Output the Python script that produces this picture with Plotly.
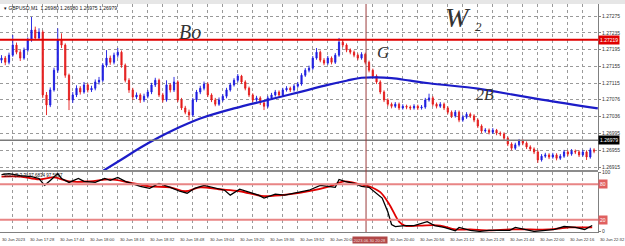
import plotly.graph_objects as go

# ---------------- DATA ----------------
# candle times: minutes after 17:00 on 30 Jun 2023 (2-minute candles)
candle_minutes = list(range(14, 332, 2))

open_ = [1.27170, 1.27175, 1.27165, 1.27182, 1.27206, 1.27189, 1.27175, 1.27194, 1.27218, 1.27242,
         1.27223, 1.27237, 1.27087, 1.27063, 1.27099, 1.27146, 1.27218, 1.27206, 1.27134, 1.27075,
         1.27087, 1.27103, 1.27094, 1.27111, 1.27099, 1.27103, 1.27118, 1.27122, 1.27158, 1.27175,
         1.27165, 1.27182, 1.27189, 1.27158, 1.27122, 1.27099, 1.27082, 1.27087, 1.27075, 1.27084,
         1.27094, 1.27111, 1.27122, 1.27087, 1.27075, 1.27111, 1.27099, 1.27118, 1.27075, 1.27056,
         1.27046, 1.27039, 1.27075, 1.27094, 1.27103, 1.27113, 1.27087, 1.27075, 1.27065, 1.27075,
         1.27084, 1.27099, 1.27111, 1.27122, 1.27132, 1.27118, 1.27103, 1.27087, 1.27075, 1.27080,
         1.27068, 1.27060, 1.27080, 1.27087, 1.27094, 1.27087, 1.27099, 1.27103, 1.27099, 1.27108,
         1.27113, 1.27134, 1.27146, 1.27151, 1.27175, 1.27189, 1.27170, 1.27163, 1.27175, 1.27165,
         1.27182, 1.27213, 1.27206, 1.27194, 1.27189, 1.27182, 1.27175, 1.27184, 1.27165, 1.27146,
         1.27132, 1.27118, 1.27094, 1.27075, 1.27065, 1.27060, 1.27065, 1.27056, 1.27060, 1.27058,
         1.27056, 1.27060, 1.27056, 1.27058, 1.27075, 1.27080, 1.27065, 1.27060, 1.27065, 1.27056,
         1.27046, 1.27037, 1.27046, 1.27027, 1.27034, 1.27041, 1.27037, 1.27027, 1.27013, 1.27001,
         1.27003, 1.26998, 1.27003, 1.26996, 1.26994, 1.26984, 1.26970, 1.26960, 1.26968, 1.26977,
         1.26972, 1.26963, 1.26958, 1.26951, 1.26932, 1.26941, 1.26944, 1.26939, 1.26944, 1.26936,
         1.26941, 1.26951, 1.26946, 1.26953, 1.26951, 1.26944, 1.26951, 1.26939, 1.26956]

close = [1.27175, 1.27165, 1.27182, 1.27206, 1.27189, 1.27175, 1.27194, 1.27218, 1.27242, 1.27223,
         1.27237, 1.27087, 1.27063, 1.27099, 1.27146, 1.27218, 1.27206, 1.27134, 1.27075, 1.27087,
         1.27103, 1.27094, 1.27111, 1.27099, 1.27103, 1.27118, 1.27122, 1.27158, 1.27175, 1.27165,
         1.27182, 1.27189, 1.27158, 1.27122, 1.27099, 1.27082, 1.27087, 1.27075, 1.27084, 1.27094,
         1.27111, 1.27122, 1.27087, 1.27075, 1.27111, 1.27099, 1.27118, 1.27075, 1.27056, 1.27046,
         1.27039, 1.27075, 1.27094, 1.27103, 1.27113, 1.27087, 1.27075, 1.27065, 1.27075, 1.27084,
         1.27099, 1.27111, 1.27122, 1.27132, 1.27118, 1.27103, 1.27087, 1.27075, 1.27080, 1.27068,
         1.27060, 1.27080, 1.27087, 1.27094, 1.27087, 1.27099, 1.27103, 1.27099, 1.27108, 1.27113,
         1.27134, 1.27146, 1.27151, 1.27175, 1.27189, 1.27170, 1.27163, 1.27175, 1.27165, 1.27182,
         1.27213, 1.27206, 1.27194, 1.27189, 1.27182, 1.27175, 1.27184, 1.27165, 1.27146, 1.27132,
         1.27118, 1.27094, 1.27075, 1.27065, 1.27060, 1.27065, 1.27056, 1.27060, 1.27058, 1.27056,
         1.27060, 1.27056, 1.27058, 1.27075, 1.27080, 1.27065, 1.27060, 1.27065, 1.27056, 1.27046,
         1.27037, 1.27046, 1.27027, 1.27034, 1.27041, 1.27037, 1.27027, 1.27013, 1.27001, 1.27003,
         1.26998, 1.27003, 1.26996, 1.26994, 1.26984, 1.26970, 1.26960, 1.26968, 1.26977, 1.26972,
         1.26963, 1.26958, 1.26951, 1.26932, 1.26941, 1.26944, 1.26939, 1.26944, 1.26936, 1.26941,
         1.26951, 1.26946, 1.26953, 1.26951, 1.26944, 1.26951, 1.26939, 1.26956, 1.26953]

high = [1.27182, 1.27180, 1.27188, 1.27230, 1.27212, 1.27194, 1.27200, 1.27224, 1.27273, 1.27250,
        1.27246, 1.27241, 1.27094, 1.27105, 1.27152, 1.27246, 1.27234, 1.27210, 1.27138, 1.27094,
        1.27110, 1.27108, 1.27118, 1.27115, 1.27109, 1.27124, 1.27130, 1.27163, 1.27194, 1.27181,
        1.27188, 1.27199, 1.27193, 1.27162, 1.27127, 1.27104, 1.27093, 1.27091, 1.27090, 1.27099,
        1.27116, 1.27128, 1.27126, 1.27092, 1.27122, 1.27115, 1.27130, 1.27122, 1.27080, 1.27061,
        1.27052, 1.27080, 1.27099, 1.27109, 1.27119, 1.27117, 1.27091, 1.27080, 1.27081, 1.27089,
        1.27104, 1.27116, 1.27127, 1.27137, 1.27135, 1.27122, 1.27107, 1.27091, 1.27085, 1.27084,
        1.27072, 1.27085, 1.27092, 1.27099, 1.27098, 1.27104, 1.27108, 1.27107, 1.27113, 1.27118,
        1.27139, 1.27151, 1.27157, 1.27180, 1.27199, 1.27193, 1.27175, 1.27180, 1.27179, 1.27187,
        1.27223, 1.27218, 1.27210, 1.27198, 1.27193, 1.27186, 1.27189, 1.27188, 1.27169, 1.27150,
        1.27136, 1.27122, 1.27098, 1.27079, 1.27069, 1.27070, 1.27069, 1.27065, 1.27064, 1.27062,
        1.27065, 1.27064, 1.27063, 1.27080, 1.27090, 1.27084, 1.27069, 1.27070, 1.27069, 1.27060,
        1.27050, 1.27051, 1.27050, 1.27039, 1.27046, 1.27045, 1.27041, 1.27031, 1.27017, 1.27008,
        1.27007, 1.27008, 1.27006, 1.27000, 1.26998, 1.26988, 1.26974, 1.26973, 1.26982, 1.26981,
        1.26976, 1.26967, 1.26962, 1.26955, 1.26946, 1.26949, 1.26948, 1.26949, 1.26948, 1.26946,
        1.26956, 1.26955, 1.26958, 1.26957, 1.26955, 1.26956, 1.26955, 1.26961, 1.26960]

low = [1.27163, 1.27158, 1.27160, 1.27178, 1.27184, 1.27168, 1.27171, 1.27190, 1.27214, 1.27218,
       1.27219, 1.27080, 1.27039, 1.27058, 1.27095, 1.27140, 1.27199, 1.27128, 1.27051, 1.27068,
       1.27082, 1.27088, 1.27090, 1.27093, 1.27094, 1.27098, 1.27112, 1.27118, 1.27153, 1.27159,
       1.27160, 1.27176, 1.27152, 1.27117, 1.27092, 1.27075, 1.27077, 1.27068, 1.27070, 1.27079,
       1.27089, 1.27106, 1.27082, 1.27069, 1.27071, 1.27093, 1.27094, 1.27070, 1.27051, 1.27041,
       1.27027, 1.27035, 1.27070, 1.27089, 1.27098, 1.27082, 1.27070, 1.27060, 1.27061, 1.27071,
       1.27079, 1.27095, 1.27107, 1.27117, 1.27113, 1.27098, 1.27082, 1.27070, 1.27071, 1.27063,
       1.27051, 1.27056, 1.27076, 1.27083, 1.27082, 1.27083, 1.27095, 1.27094, 1.27095, 1.27104,
       1.27109, 1.27130, 1.27141, 1.27147, 1.27171, 1.27165, 1.27158, 1.27159, 1.27160, 1.27161,
       1.27178, 1.27201, 1.27189, 1.27184, 1.27177, 1.27170, 1.27171, 1.27160, 1.27141, 1.27127,
       1.27113, 1.27089, 1.27070, 1.27060, 1.27055, 1.27056, 1.27051, 1.27052, 1.27053, 1.27051,
       1.27052, 1.27051, 1.27052, 1.27054, 1.27071, 1.27060, 1.27055, 1.27056, 1.27051, 1.27041,
       1.27032, 1.27033, 1.27022, 1.27023, 1.27030, 1.27032, 1.27022, 1.27008, 1.26996, 1.26997,
       1.26993, 1.26994, 1.26991, 1.26989, 1.26979, 1.26965, 1.26955, 1.26956, 1.26964, 1.26967,
       1.26958, 1.26953, 1.26946, 1.26925, 1.26928, 1.26937, 1.26934, 1.26935, 1.26931, 1.26932,
       1.26937, 1.26941, 1.26942, 1.26946, 1.26939, 1.26940, 1.26932, 1.26935, 1.26948]

# moving average (blue line)
ma_minutes = [66, 78, 88, 98, 106, 114, 120, 138, 156, 174, 188, 198, 206, 214, 222, 232, 242, 268, 276, 302, 332]
ma_values = [1.26900, 1.26933, 1.26961, 1.26986, 1.27004, 1.27020, 1.27031, 1.27055, 1.27075, 1.27095,
             1.27111, 1.27121, 1.27128, 1.27129, 1.27127, 1.27121, 1.27115, 1.27102, 1.27096, 1.27076, 1.27055]

# stochastic main (black)
stoch_main_minutes = [14, 18, 24, 30, 34, 37, 40, 44, 46, 50, 55, 58, 64, 69, 72, 76, 80, 85, 88, 93,
                      98, 104, 109, 113, 117, 122, 128, 133, 136, 141, 146, 151, 154, 160, 165, 170, 176, 178,
                      184, 188, 192, 194, 197, 202, 206, 210, 213, 217, 220, 222, 224, 229, 234, 241, 245,
                      250, 256, 258, 264, 269, 274, 280, 285, 288, 293, 298, 304, 309, 314, 320, 325, 329]
stoch_main = [96.7, 98.3, 95.0, 93.3, 90.0, 78.3, 86.7, 98.3, 90.0, 83.3, 90.0, 85.0, 83.3, 90.0, 86.7, 91.7,
              85.0, 80.0, 76.7, 73.3, 81.7, 75.0, 68.3, 65.0, 73.3, 78.3, 73.3, 70.0, 61.7, 71.7, 66.7, 61.7,
              56.7, 63.3, 61.7, 65.0, 68.3, 70.0, 78.3, 76.7, 75.0, 88.3, 85.0, 81.7, 76.7, 75.0, 66.7, 56.7,
              33.3, 11.7, 8.3, 10.0, 10.0, 16.7, 10.0, 6.7, 1.0, 6.7, 1.7, 0.0, 1.7, 1.7, 1.7, 6.7, 3.3, 0.0,
              1.7, 3.3, 8.3, 6.7, 3.3, 10.0]

# stochastic signal (red)
stoch_signal_minutes = [14, 24, 34, 42, 50, 61, 72, 82, 93, 104, 112, 120, 130, 141, 154, 168, 178, 189,
                        197, 205, 210, 216, 221, 226, 229, 237, 248, 256, 264, 274, 285, 296, 306, 317, 329]
stoch_signal = [93.3, 93.3, 88.3, 91.7, 85.0, 85.0, 88.3, 83.3, 76.7, 75.0, 68.3, 75.0, 71.7, 68.3, 60.0,
                63.3, 68.3, 76.7, 85.0, 80.0, 76.7, 66.7, 45.0, 16.7, 10.0, 10.0, 10.0, 3.3, 3.3, 1.7, 3.3,
                3.3, 3.3, 6.7, 6.7]

# axis ticks / labels
price_ticks = [1.27275, 1.27235, 1.27195, 1.27155, 1.27115, 1.27076, 1.27036, 1.26995, 1.26955, 1.26915]
price_tick_text = ["1.27275", "1.27235", "1.27195", "1.27155", "1.27115", "1.27076", "1.27036",
                   "1.26995", "1.26955", "1.26915"]
grid_minutes = [20, 28, 36, 44, 52, 60, 68, 76, 84, 92, 100, 108, 116, 124, 132, 140, 148, 156, 164, 172,
                180, 188, 196, 204, 212, 220, 228, 236, 244, 252, 260, 268, 276, 284, 292, 300, 308, 316, 324, 332]
# (the 20:24 label is hidden under the vertical-line time box in the original)
time_label_minutes = [28, 44, 60, 76, 92, 108, 124, 140, 156, 172, 188, 220, 236, 252, 268, 284, 300, 316, 332]
time_labels = ["30 Jun 17:28", "30 Jun 17:44", "30 Jun 18:00", "30 Jun 18:16", "30 Jun 18:32",
               "30 Jun 18:48", "30 Jun 19:04", "30 Jun 19:20", "30 Jun 19:36", "30 Jun 19:52",
               "30 Jun 20:08", "30 Jun 20:40", "30 Jun 20:56", "30 Jun 21:12",
               "30 Jun 21:28", "30 Jun 21:44", "30 Jun 22:00", "30 Jun 22:16", "30 Jun 22:32"]

resistance_level = 1.27219
bid_level = 1.26979
stoch_levels = [80, 20]
vline_minute = 208.4

# ---------------- FIGURE ----------------
H_PLOT = 228.0  # plot-area height in px (246 - 4 - 14)
def py(px):  # pixel (from top of page) -> paper fraction
    return (232.0 - px) / H_PLOT

main_dom = [py(170), 1.0]
sub_dom = [0.0, py(172)]

fig = go.Figure()

fig.add_trace(go.Candlestick(
    x=candle_minutes, open=open_, high=high, low=low, close=close,
    xaxis="x", yaxis="y",
    increasing=dict(line=dict(color="#1c1ce0", width=0.9), fillcolor="#1c1ce0"),
    decreasing=dict(line=dict(color="#e41c1c", width=0.9), fillcolor="#e41c1c"),
    whiskerwidth=0, showlegend=False, hoverinfo="skip"))

fig.add_trace(go.Scatter(x=ma_minutes, y=ma_values, mode="lines", xaxis="x", yaxis="y",
                         line=dict(color="#1c1cc8", width=2.2, shape="spline", smoothing=1.1),
                         showlegend=False, hoverinfo="skip"))

fig.add_trace(go.Scatter(x=stoch_signal_minutes, y=stoch_signal, mode="lines", xaxis="x", yaxis="y2",
                         line=dict(color="#e00000", width=1.8, shape="spline"),
                         showlegend=False, hoverinfo="skip"))
fig.add_trace(go.Scatter(x=stoch_main_minutes, y=stoch_main, mode="lines", xaxis="x", yaxis="y2",
                         line=dict(color="#000000", width=1.3),
                         showlegend=False, hoverinfo="skip"))

grid_style = dict(showgrid=True, gridcolor="#9a9a9a", griddash="dot", gridwidth=1)

fig.update_layout(
    width=625, height=246,
    margin=dict(l=0, r=27, t=4, b=14),
    paper_bgcolor="white", plot_bgcolor="white",
    boxgap=0.55,
    font=dict(family="Liberation Sans", size=5, color="#222"),
    xaxis=dict(domain=[0, 1], anchor="y2", range=[13.2, 332.1],
               tickvals=grid_minutes, showticklabels=False, ticks="",
               showline=True, linecolor="#808080", linewidth=1, zeroline=False,
               rangeslider=dict(visible=False), **grid_style),
    yaxis=dict(domain=main_dom, anchor="x", range=[1.26908, 1.27304], side="right",
               tickvals=price_ticks, ticktext=price_tick_text, tickfont=dict(size=5, color="#333"),
               ticks="outside", ticklen=2, tickcolor="#808080",
               showline=True, linecolor="#808080", linewidth=1, zeroline=False, **grid_style),
    yaxis2=dict(domain=sub_dom, anchor="x", range=[-1, 101], side="right",
                tickvals=[0, 100], ticktext=["0", "100"], tickfont=dict(size=5, color="#333"),
                ticks="outside", ticklen=2, tickcolor="#808080",
                showline=True, linecolor="#808080", linewidth=1, zeroline=False, showgrid=False),
)

shapes = [
    # toolbar strip at top
    dict(type="rect", xref="paper", yref="paper", x0=0, x1=1.05, y0=1.0, y1=1.0 + 4 / H_PLOT,
         fillcolor="#e6e6e6", line=dict(width=0), layer="below"),
    # panel separator
    dict(type="rect", xref="paper", yref="paper", x0=0, x1=1, y0=sub_dom[1], y1=main_dom[0],
         fillcolor="#8c8c8c", line=dict(width=0)),
    # resistance line
    dict(type="line", xref="paper", yref="y", x0=0, x1=1, y0=resistance_level, y1=resistance_level,
         line=dict(color="#e00000", width=2)),
    # bid line
    dict(type="line", xref="paper", yref="y", x0=0, x1=1, y0=bid_level, y1=bid_level,
         line=dict(color="#7a7a7a", width=1.5)),
    # vertical line
    dict(type="line", xref="x", yref="paper", x0=vline_minute, x1=vline_minute, y0=0, y1=1,
         line=dict(color="#9a3a3a", width=1)),
]
for lv in stoch_levels:
    shapes.append(dict(type="line", xref="paper", yref="y2", x0=0, x1=1, y0=lv, y1=lv,
                       line=dict(color="#e88585", width=2)))
fig.update_layout(shapes=shapes)

LBL = 4.2
ann = []
# title
ann.append(dict(xref="paper", yref="paper", x=0.004, y=py(8), xanchor="left", yanchor="middle",
                text="▾ GBPUSD,M1  1.26980 1.26980 1.26975 1.26979", showarrow=False,
                font=dict(size=5, color="#111")))
# stoch label
ann.append(dict(xref="paper", yref="paper", x=0.002, y=py(175), xanchor="left", yanchor="middle",
                text="Stoch(5,3,3) 97.6834 97.5667", showarrow=False,
                font=dict(size=4.5, color="#111")))
# time labels
ann.append(dict(xref="paper", yref="paper", x=0.0, y=py(239.5), xanchor="left", yanchor="middle",
                text="30 Jun 2023", showarrow=False, font=dict(size=LBL, color="#333")))
for t, lab in zip(time_label_minutes, time_labels):
    ann.append(dict(xref="x", yref="paper", x=t, y=py(239.5), xanchor="left", yanchor="middle",
                    text=lab, showarrow=False, font=dict(size=LBL, color="#333")))
# vertical line time box
ann.append(dict(xref="x", yref="paper", x=vline_minute + 2.0, y=py(239.5), xanchor="center", yanchor="middle",
                text="2023.06.30 20:28", showarrow=False, bgcolor="#b04848",
                font=dict(size=4.1, color="#f4dede"), borderpad=0.5))
# price boxes
ann.append(dict(xref="paper", yref="y", x=1.0, y=resistance_level, xanchor="left", yanchor="middle",
                text="1.27219", showarrow=False, bgcolor="#e00000", font=dict(size=5, color="white"),
                borderpad=1))
ann.append(dict(xref="paper", yref="y", x=1.0, y=bid_level, xanchor="left", yanchor="middle",
                text="1.26979", showarrow=False, bgcolor="#000000", font=dict(size=5, color="white"),
                borderpad=1))
for lv in stoch_levels:
    ann.append(dict(xref="paper", yref="y2", x=1.0, y=lv, xanchor="left", yanchor="middle",
                    text=str(lv), showarrow=False, bgcolor="#e06060", font=dict(size=5, color="white"),
                    borderpad=1))
# hand-drawn notes
hand = dict(family="Liberation Serif", color="#333333")
ann.append(dict(xref="x", yref="y", x=114.5, y=1.27237, text="Bo", showarrow=False,
                font=dict(size=20, style="italic", **hand)))
ann.append(dict(xref="x", yref="y", x=217.5, y=1.27189, text="G", showarrow=False,
                font=dict(size=17, style="italic", **hand)))
ann.append(dict(xref="x", yref="y", x=257.5, y=1.27272, text="W", showarrow=False,
                font=dict(size=28, style="italic", **hand)))
ann.append(dict(xref="x", yref="y", x=268.5, y=1.27250, text="2", showarrow=False,
                font=dict(size=13, style="italic", **hand)))
ann.append(dict(xref="x", yref="y", x=271.9, y=1.27087, text="2B", showarrow=False,
                font=dict(size=16, style="italic", **hand)))
fig.update_layout(annotations=ann)

fig.write_html("out.html")
